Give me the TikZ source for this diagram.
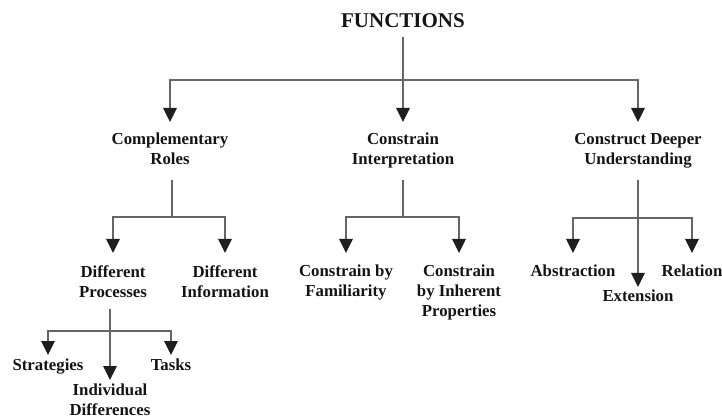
\documentclass[tikz,border=0pt]{standalone}
\usepackage{fontspec}
\setmainfont{Liberation Serif}
\usetikzlibrary{arrows.meta}
\begin{document}
\begin{tikzpicture}[x=1pt,y=-1pt,
  lbl/.style={font=\fontsize{16.8}{20}\selectfont\bfseries, align=center, inner xsep=0pt, anchor=north, text=black!92},
  title/.style={font=\fontsize{21}{24}\selectfont\bfseries, inner xsep=0pt, inner ysep=9pt, anchor=base, text=black!92},
  conn/.style={line width=1.1pt, draw=black!60},
  arr/.style={conn, -{Triangle[length=14pt,width=13.5pt,color=black!88]}}
]
\useasboundingbox (0,0) rectangle (722,419);

% title
\node[title] (F) at (403,28) {FUNCTIONS};

% level 2
\node[lbl, inner ysep=11pt, text depth=4pt] (cr) at (170,122) {Complementary\\Roles};
\node[lbl, inner ysep=11pt, text depth=4pt] (ci) at (403,122) {Constrain\\Interpretation};
\node[lbl, inner ysep=11pt, text depth=4pt] (cd) at (638,122) {Construct Deeper\\Understanding};

% level 3
\node[lbl, inner ysep=12pt] (dp) at (113,253) {Different\\Processes};
\node[lbl, inner ysep=12pt] (di) at (225,253) {Different\\Information};
\node[lbl, inner ysep=12pt] (cf) at (346,253) {Constrain by\\Familiarity};
\node[lbl, inner ysep=12pt] (cp) at (459,253) {Constrain\\by Inherent\\Properties};
\node[lbl, inner ysep=12pt] (ab) at (573,253) {Abstraction};
\node[lbl, inner ysep=12pt] (re) at (692,253) {Relation};
\node[lbl, inner ysep=3pt] (ex) at (638,287) {Extension};

% level 4
\node[lbl, inner ysep=4pt] (st) at (48,355) {Strategies};
\node[lbl, inner ysep=4pt] (ta) at (171,355) {Tasks};
\node[lbl, inner ysep=4pt] (id) at (110,380) {Individual\\Differences};

% junctions
\coordinate (j1) at (403,80);
\coordinate (j2) at (172,217);
\coordinate (j3) at (403,217);
\coordinate (j4) at (638,218);
\coordinate (j5) at (110,331);

% connectors
\draw[arr] (F.south) -- (ci.north);
\draw[arr] (j1) -| (cr.north);
\draw[arr] (j1) -| (cd.north);

\draw[conn] (cr.south -| j2) -- (j2);
\draw[arr] (j2) -| (dp.north);
\draw[arr] (j2) -| (di.north);

\draw[conn] (ci.south) -- (j3);
\draw[arr] (j3) -| (cf.north);
\draw[arr] (j3) -| (cp.north);

\draw[arr] (cd.south) -- (ex.north);
\draw[arr] (j4) -| (ab.north);
\draw[arr] (j4) -| (re.north);

\draw[arr] (dp.south -| j5) -- (id.north);
\draw[arr] (j5) -| (st.north);
\draw[arr] (j5) -| (ta.north);
\end{tikzpicture}
\end{document}
